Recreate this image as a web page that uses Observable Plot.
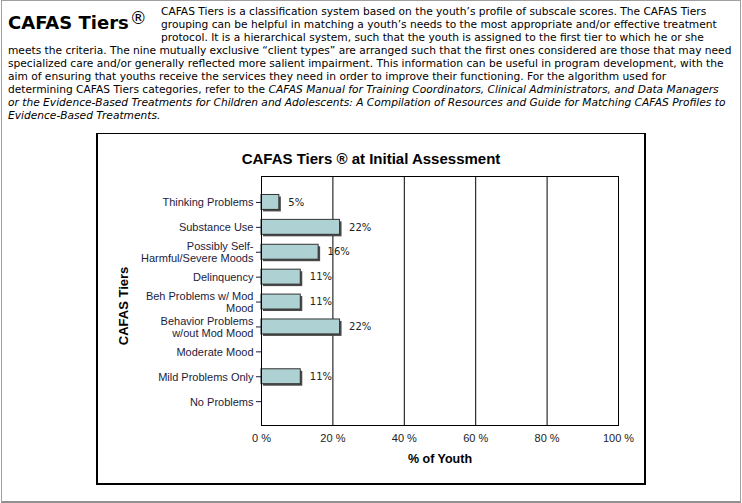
<!DOCTYPE html>
<html>
<head>
<meta charset="utf-8">
<script src="https://cdn.jsdelivr.net/npm/d3@7"></script>
<script src="https://cdn.jsdelivr.net/npm/@observablehq/plot@0.6"></script>
<style>
  html, body { margin: 0; padding: 0; background: #fff; }
  #page { position: relative; width: 742px; height: 503px; overflow: hidden; background: #fff; }
  #pageborder { position: absolute; left: 1px; top: 0px; width: 738px; height: 500px; border: 1px solid #a0a0a0; border-bottom: 2px solid #909090; }
  #head { position: absolute; left: 8px; top: 12px; font-family: "DejaVu Sans", Verdana, sans-serif; font-weight: bold; font-size: 18px; line-height: 22px; white-space: nowrap; color: #000; }
  #head span.reg { font-weight: normal; font-size: 17px; position: relative; top: -5px; margin-left: 1px; }
  .ln { position: absolute; font-family: "DejaVu Sans", Verdana, sans-serif; font-size: 10.65px; line-height: 13px; white-space: nowrap; color: #000; }
  #box { position: absolute; left: 96px; top: 133px; width: 546px; height: 349px; border: 2px solid #000; border-top-width: 1px; background: #fff; }
  #ctitle { position: absolute; left: 0; top: 16px; width: 100%; text-align: center; font-family: "Liberation Sans", Arial, sans-serif; font-weight: bold; font-size: 15px; color: #000; }
  #chart { position: absolute; left: 0; top: 36px; }
  #chart g[aria-label="x-axis label"] text { font-weight: bold; fill: #000; font-size: 12.5px; }
</style>
</head>
<body>
<div id="page">
  <div id="pageborder"></div>
  <div id="head">CAFAS Tiers<span class="reg">®</span></div>
  <div id="text"></div>
  <div id="box">
    <div id="ctitle">CAFAS Tiers ® at Initial Assessment</div>
    <div id="chart"></div>
  </div>
</div>
<script>
// ---- data ----
const tiers = [
  "Thinking Problems",
  "Substance Use",
  "Possibly Self-\nHarmful/Severe Moods",
  "Delinquency",
  "Beh Problems w/ Mod\nMood",
  "Behavior Problems\nw/out Mod Mood",
  "Moderate Mood",
  "Mild Problems Only",
  "No Problems"
];
const pct = [5, 22, 16, 11, 11, 22, 0, 11, 0];
const xTicks = [0, 20, 40, 60, 80, 100];
const gridValues = [20, 40, 60, 80];
const yTitle = ["CAFAS Tiers"];

const introLines = [
  "CAFAS Tiers is a classification system based on the youth’s profile of subscale scores. The CAFAS Tiers",
  "grouping can be helpful in matching a youth’s needs to the most appropriate and/or effective treatment",
  "protocol. It is a hierarchical system, such that the youth is assigned to the first tier to which he or she",
  "meets the criteria. The nine mutually exclusive “client types” are arranged such that the first ones considered are those that may need",
  "specialized care and/or generally reflected more salient impairment. This information can be useful in program development, with the",
  "aim of ensuring that youths receive the services they need in order to improve their functioning. For the algorithm used for",
  "determining CAFAS Tiers categories, refer to the <i>CAFAS Manual for Training Coordinators, Clinical Administrators, and Data Managers</i>",
  "<i>or the Evidence-Based Treatments for Children and Adolescents: A Compilation of Resources and Guide for Matching CAFAS Profiles to</i>",
  "<i>Evidence-Based Treatments.</i>"
];

// ---- intro text ----
const textDiv = document.getElementById("text");
introLines.forEach((s, i) => {
  const d = document.createElement("div");
  d.className = "ln";
  d.style.left = (i < 3 ? 161 : 8) + "px";
  d.style.top = (5 + 13 * i) + "px";
  d.innerHTML = s;
  textDiv.appendChild(d);
});

// ---- chart ----
const rows = tiers.map((t, i) => ({tier: t, value: pct[i]}));
const shown = rows.filter(d => d.value > 0);

const chart = Plot.plot({
  width: 546,
  height: 313,
  marginTop: 6,
  marginBottom: 58,
  marginLeft: 163,
  marginRight: 26,
  style: {fontFamily: "Liberation Sans, Arial, sans-serif", fontSize: "11px", background: "#fff", overflow: "visible"},
  x: {domain: [0, 100]},
  y: {domain: tiers, paddingInner: 0.4, paddingOuter: 0.7, align: 0.53, round: false},
  marks: [
    Plot.ruleX(gridValues, {stroke: "#000", strokeOpacity: 1}),
    Plot.barX(shown, {x: "value", y: "tier", fill: "#4a4a4a", dx: 2, dy: 2}),
    Plot.barX(shown, {x: "value", y: "tier", fill: "#aed2d3", stroke: "#333", strokeWidth: 1}),
    Plot.text(shown, {x: "value", y: "tier", text: d => d.value + "%", dx: 9, textAnchor: "start",
      fontSize: 10, fontFamily: "DejaVu Sans, Tahoma, sans-serif", fill: "#222"}),
    Plot.frame({stroke: "#000", strokeOpacity: 1}),
    Plot.axisY({tickSize: 5, tickPadding: 3, fontSize: 11, lineHeight: 1.1, color: "#1c1c3c",
      tickFormat: d => d, label: null}),
    Plot.text(yTitle, {frameAnchor: "left", dx: -138, dy: 5, rotate: -90, text: d => d,
      fontSize: 13, fontWeight: "bold", fill: "#000", textAnchor: "middle", lineAnchor: "middle"}),
    Plot.axisX({ticks: xTicks, tickSize: 0, tickPadding: 9, tickFormat: d => d + " %", fontSize: 11, color: "#222",
      label: "% of Youth", labelAnchor: "center", labelOffset: 37, labelArrow: "none"})
  ]
});
document.getElementById("chart").appendChild(chart);
</script>
</body>
</html>
